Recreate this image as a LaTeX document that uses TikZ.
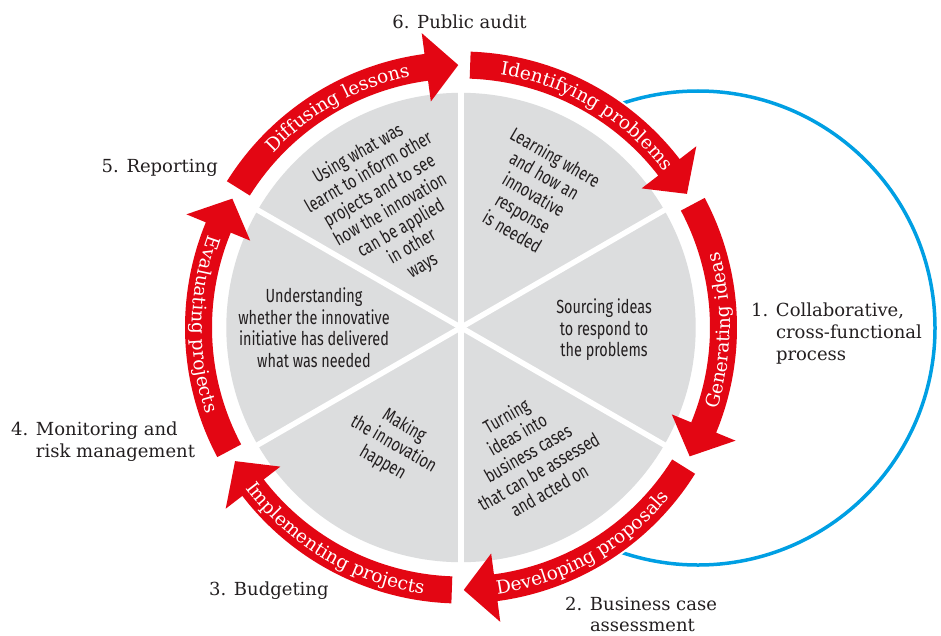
\documentclass[tikz,border=0pt]{standalone}
\usepackage{fontspec}
\setmainfont{DejaVu Serif}
\newfontfamily\condsans{Fira Sans}[FakeStretch=0.76]
\usetikzlibrary{decorations.text}
\definecolor{ivRed}{HTML}{E30613}
\definecolor{ivGrey}{HTML}{DCDDDE}
\definecolor{ivBlue}{HTML}{009FE3}
\definecolor{ivInk}{HTML}{231F20}

% ring geometry (pt)
\def\rIn{249}\def\rOut{276}\def\rMid{262.5}
\def\rHin{228}\def\rHout{297}\def\hd{7}

% clockwise arc arrow: #1 start angle, #2 tip angle
\newcommand{\ringarrow}[2]{%
  \fill[ivRed] (#1:\rOut pt) arc[start angle=#1, end angle=#2+\hd, radius=\rOut pt]
    -- (#2+\hd:\rHout pt) -- (#2:\rMid pt) -- (#2+\hd:\rHin pt)
    -- (#2+\hd:\rIn pt) arc[start angle=#2+\hd, end angle=#1, radius=\rIn pt] -- cycle;}
% label along the ring, clockwise (tops out) or anticlockwise (tops in)
\newcommand{\cwlabel}[3]{%
  \path[decorate, decoration={text along path, text align=center,
      text={|\bandfont|#3}}] (#1:256pt) arc[start angle=#1, end angle=#2, radius=256pt];}
\newcommand{\ccwlabel}[3]{%
  \path[decorate, decoration={text along path, text align=center,
      text={|\bandfont|#3}}] (#2:269pt) arc[start angle=#2, end angle=#1, radius=269pt];}
\newcommand{\bandfont}{\fontsize{18.5}{22}\selectfont\color{white}}

\begin{document}
\begin{tikzpicture}[x=1pt,y=1pt,
    step text/.style={font=\condsans\fontsize{19}{21.5}\selectfont,
                      text=ivInk,align=center,inner sep=0pt},
    outer/.style={font=\fontsize{18}{22}\selectfont,text=ivInk,
                  align=left,inner sep=0pt}]
  \useasboundingbox (-461,-307.5) rectangle (480,327.5);

  % collaborative loop, hidden behind the wheel
  \draw[ivBlue,line width=3.5pt] (237,-0.5) circle[radius=237pt];
  \fill[white] (0,0) circle[radius=278pt];

  % grey wheel with six sectors
  \fill[ivGrey] (0,0) circle[radius=234.7pt];
  \foreach \a in {90,30,-30,-90,-150,-210}
    \draw[white,line width=5.5pt] (0,0) -- (\a:240pt);

  % red ring of arrows
  \foreach \s/\t in {88/30.6,28/-29.4,-32/-89.4,-92/-149.4,-152/-209.4,148/90.6}
    {\ringarrow{\s}{\t}}

  \cwlabel{88}{30.6}{Identifying problems}
  \ccwlabel{28}{-29.4}{Generating ideas}
  \ccwlabel{-32}{-89.4}{Developing proposals}
  \ccwlabel{-92}{-149.4}{Implementing projects}
  \ccwlabel{-152}{-209.4}{Evaluating projects}
  \cwlabel{148}{90.6}{Diffusing lessons}

  % text inside the sectors
  \node[step text,rotate=-30] (learn) at (61.3:152)
    {Learning where\\and how an\\innovative\\response\\is needed};
  \node[step text] (source) at (143,-2.5)
    {Sourcing ideas\\to respond to\\the problems};
  \node[step text,rotate=30] (turn) at (-62:142)
    {Turning\\ideas into\\business cases\\that can be assessed\\and acted on};
  \node[step text,rotate=-30] (make) at (-120:135)
    {Making\\the innovation\\happen};
  \node[step text] (understand) at (-147,0)
    {Understanding\\whether the innovative\\initiative has delivered\\what was needed};
  \node[step text,rotate=30] (using) at (121:137)
    {Using what was\\learnt to inform other\\projects and to see\\how the innovation\\can be applied\\in other\\ways};

  % numbered stages around the wheel
  \node[outer,anchor=base] (audit) at (-1.5,299) {6. Public audit};
  \node[outer,anchor=base east] (report) at (-243,155.5) {5. Reporting};
  \node[outer,anchor=base west] (monitor) at (-450,-129.5)
    {4. Monitoring and\\\hphantom{4. }risk management};
  \node[outer,anchor=base west] (budget) at (-252,-267.5) {3. Budgeting};
  \node[outer,anchor=base west,font=\fontsize{18}{21}\selectfont] (business) at (104,-303.5)
    {2. Business case\\\hphantom{2. }assessment};
  \node[outer,anchor=base west] (collab) at (290,-32.5)
    {1. Collaborative,\\\hphantom{1. }cross-functional\\\hphantom{1. }process};
\end{tikzpicture}
\end{document}
